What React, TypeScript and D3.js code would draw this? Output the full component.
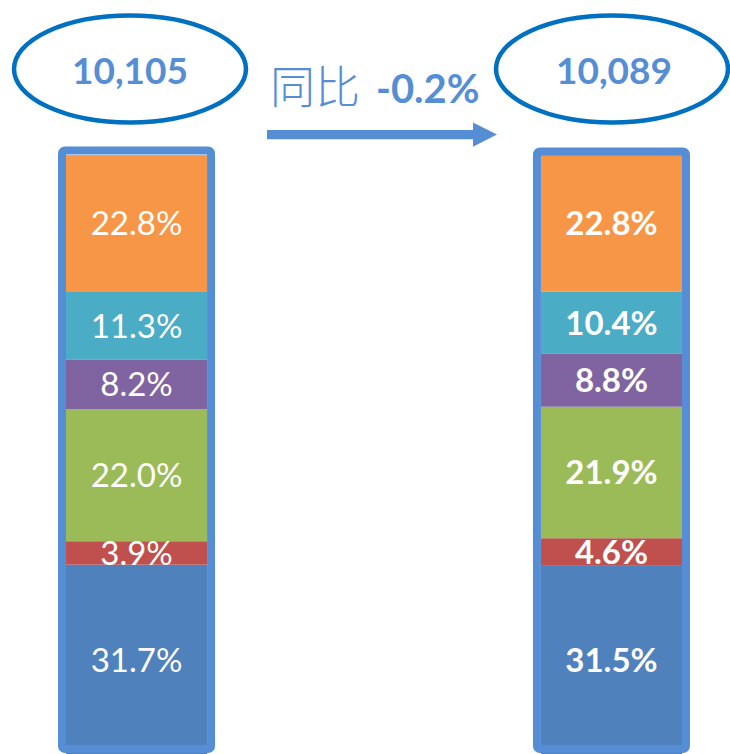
import React from "react";
import * as d3 from "d3";

const periods = ["prev", "curr"];
const totals = [10105, 10089];
const changeLabel = "-0.2%";
const changePrefix = "同比";
const segmentKeys = ["s1", "s2", "s3", "s4", "s5", "s6"];
const segmentColors = ["#4F81BD", "#C0504D", "#9BBB59", "#8064A2", "#4BACC6", "#F79646"];
const prevShares = [31.7, 3.9, 22.0, 8.2, 11.3, 22.8];
const currShares = [31.5, 4.6, 21.9, 8.8, 10.4, 22.8];

const W = 730;
const H = 754;

export default function App() {
  const rows = periods.map((p, i) => {
    const shares = i === 0 ? prevShares : currShares;
    const r: any = { period: p };
    segmentKeys.forEach((k, j) => (r[k] = shares[j]));
    return r;
  });
  const stacked = d3.stack().keys(segmentKeys)(rows);
  const x = d3.scaleBand().domain(periods).range([66, 682]).paddingInner(0.703).paddingOuter(0);
  const y = d3.scaleLinear().domain([0, 100]).range([755, 154.5]);
  const bw = x.bandwidth();
  const fmt = (v: number) => d3.format(".1f")(v) + "%";
  const ellipseCx = [130, 612];
  const borderColor = "#558ED5";
  const textBlue = "#558ED5";

  return (
    <svg width={W} height={H} style={{ position: "absolute", left: 0, top: 0, background: "#fff" }}>
      {stacked.map((layer, j) => (
        <g key={layer.key}>
          {layer.map((d: any, i: number) => (
            <rect
              key={i}
              x={x(periods[i])}
              y={y(d[1])}
              width={bw}
              height={y(d[0]) - y(d[1])}
              fill={segmentColors[j]}
            />
          ))}
        </g>
      ))}
      {stacked.map((layer, j) => (
        <g key={"l" + layer.key}>
          {layer.map((d: any, i: number) => (
            <text
              key={i}
              x={(x(periods[i]) as number) + bw / 2}
              y={(y(d[0]) + y(d[1])) / 2}
              dy="0.36em"
              textAnchor="middle"
              fill="#fff"
              fontFamily="Lato, 'Open Sans', sans-serif"
              fontWeight={i === 0 ? 400 : 700}
              fontSize={33}
            >
              {fmt(d[1] - d[0])}
            </text>
          ))}
        </g>
      ))}
      {periods.map((p, i) => (
        <rect
          key={"b" + p}
          x={(x(p) as number) - 4}
          y={y(100) - 4 + i}
          width={bw + 8}
          height={y(0) - 6 - (y(100) - 4 + i)}
          rx={3}
          fill="none"
          stroke={borderColor}
          strokeWidth={8}
        />
      ))}
      {periods.map((p, i) => (
        <g key={"e" + p}>
          <ellipse cx={ellipseCx[i]} cy={69} rx={116} ry={53.5} fill="none" stroke="#0070C0" strokeWidth={4.5} />
          <text
            x={ellipseCx[i] + (i === 0 ? 0 : 2)}
            y={84}
            textAnchor="middle"
            fill={textBlue}
            fontFamily="Lato, 'Open Sans', sans-serif"
            fontWeight={700}
            fontSize={37}
          >
            {d3.format(",")(totals[i])}
          </text>
        </g>
      ))}
      <text x={270} y={104} fill={textBlue} fontFamily="'Noto Sans CJK SC', sans-serif" fontWeight={300} fontSize={45}>
        {changePrefix}
      </text>
      <text x={376} y={102.5} fill={textBlue} fontFamily="Lato, 'Open Sans', sans-serif" fontWeight={700} fontSize={40}>
        {changeLabel}
      </text>
      <path d="M267,130 L473,130 L473,122.5 L497,134.6 L473,146.7 L473,139.3 L267,139.3 Z" fill={textBlue} />
    </svg>
  );
}
